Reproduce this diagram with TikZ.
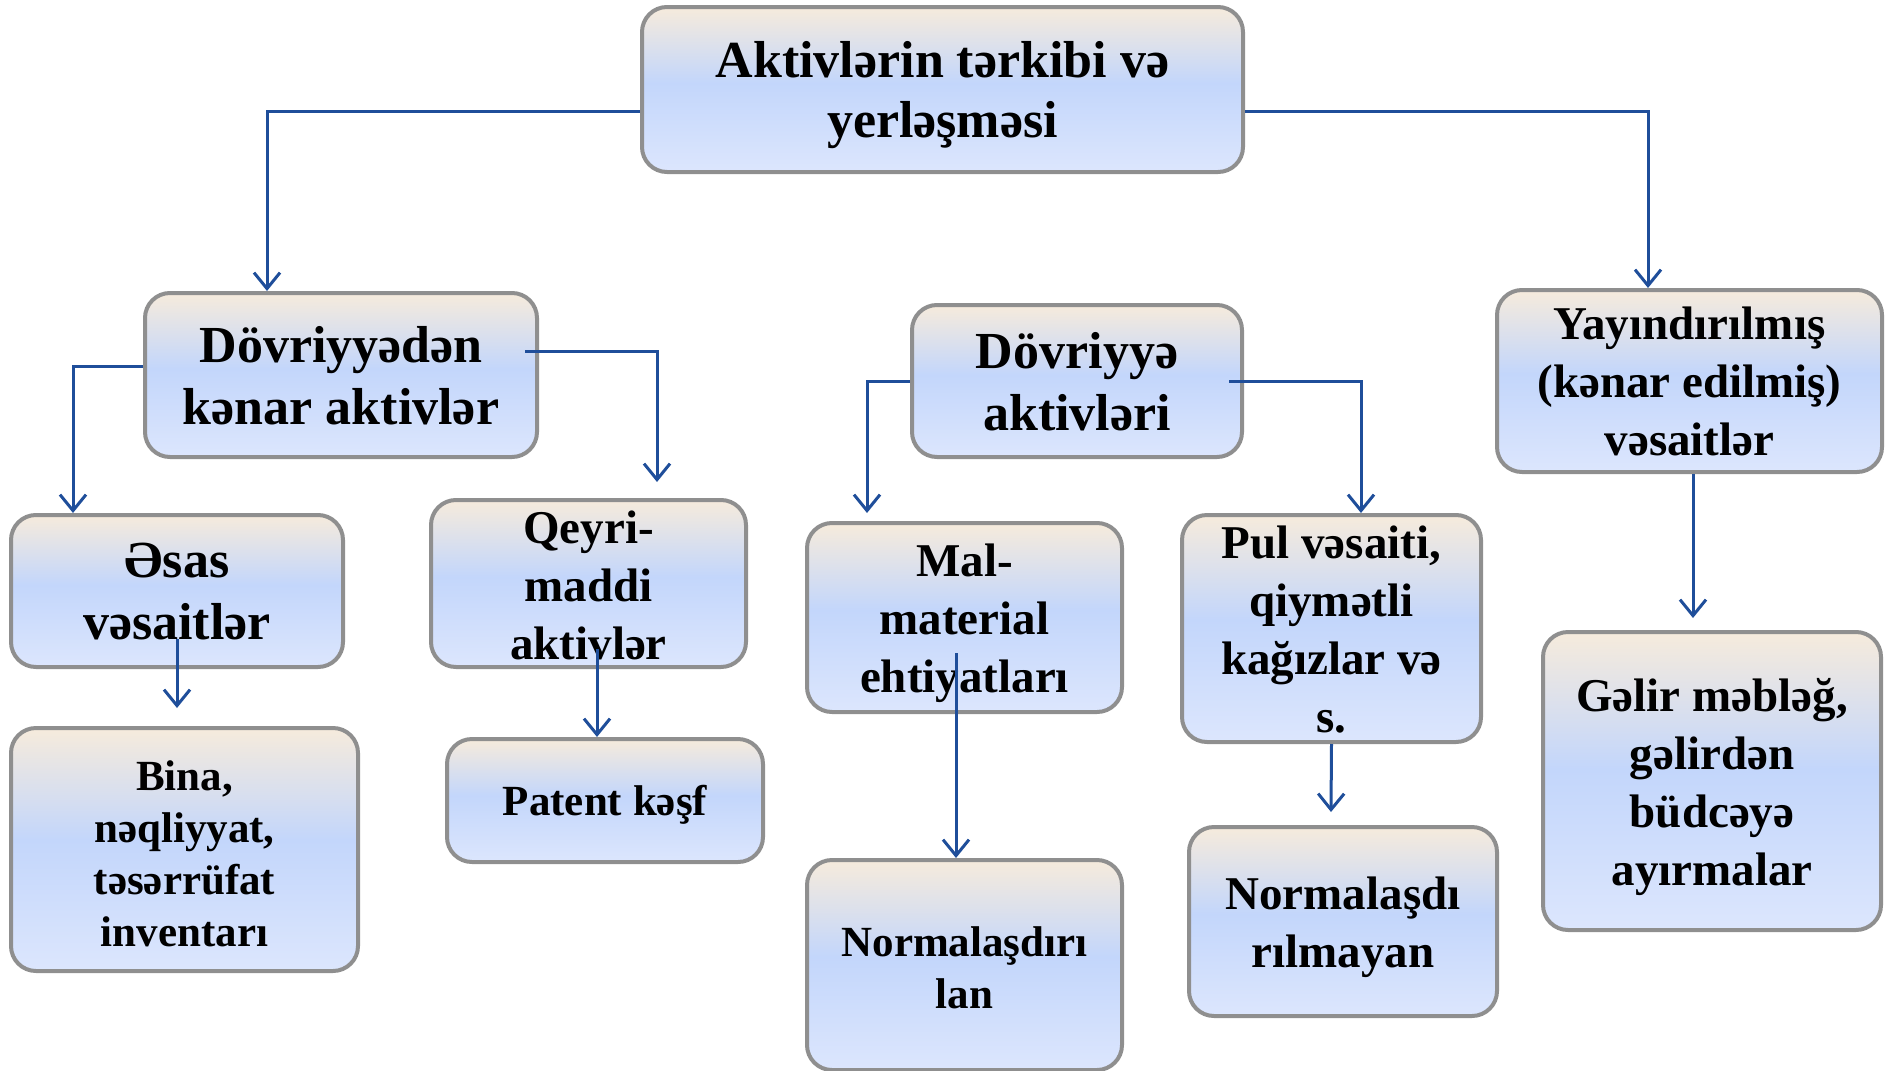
\documentclass[tikz,border=0pt]{standalone}
\usepackage{fontspec}
\setmainfont{Liberation Serif}
\usetikzlibrary{arrows.meta}
\definecolor{btop}{HTML}{F6EBDC}
\definecolor{bmid}{HTML}{C3D6FB}
\definecolor{bbot}{HTML}{DCE6FD}
\definecolor{bordc}{HTML}{8F8F8F}
\definecolor{linec}{HTML}{1F4E9A}
\pgfdeclareverticalshading{boxshade}{100bp}{color(0bp)=(bbot); color(25bp)=(bbot); color(52bp)=(bmid); color(75bp)=(btop); color(100bp)=(btop)}
\tikzset{
  box/.style={rounded corners=25pt, draw=bordc, line width=4pt, shading=boxshade,
    inner sep=0pt},
  txt/.style={align=center, inner sep=0pt},
  bigtxt/.style={txt, font=\fontsize{52pt}{62pt}\selectfont\bfseries},
  midtxt/.style={txt, font=\fontsize{47pt}{58pt}\selectfont\bfseries},
  smalltxt/.style={txt, font=\fontsize{43pt}{52pt}\selectfont\bfseries},
  conn/.style={draw=linec, line width=3pt,
    -{Straight Barb[length=16pt,width=26pt,line width=3pt]}},
}
\begin{document}
\begin{tikzpicture}[x=1pt,y=-1pt]
\useasboundingbox (0,0) rectangle (1885,1071);
% boxes
\node[box, minimum width=601pt, minimum height=165pt] (top) at (942.5,89.5) {};
\node[box, minimum width=392pt, minimum height=164pt] (dk) at (341,375) {};
\node[box, minimum width=332pt, minimum height=152pt] (esas) at (177,591) {};
\node[box, minimum width=315pt, minimum height=167pt] (qeyri) at (588.5,583.5) {};
\node[box, minimum width=347pt, minimum height=243pt] (bina) at (184.5,849.5) {};
\node[box, minimum width=316pt, minimum height=123pt] (patent) at (605,800.5) {};
\node[box, minimum width=330pt, minimum height=152pt] (da) at (1077,381) {};
\node[box, minimum width=315pt, minimum height=189pt] (mal) at (964.5,617.5) {};
\node[box, minimum width=315pt, minimum height=210pt] (norma) at (964.5,965) {};
\node[box, minimum width=299pt, minimum height=227pt] (pul) at (1331.5,628.5) {};
\node[box, minimum width=308pt, minimum height=189pt] (normb) at (1343,921.5) {};
\node[box, minimum width=385pt, minimum height=182pt] (yay) at (1689.5,381) {};
\node[box, minimum width=338pt, minimum height=298pt] (gelir) at (1712,781) {};
% texts
\node[txt, font=\fontsize{52pt}{60pt}\selectfont\bfseries, yshift=-6pt] (topt) at (top) {Aktivlərin tərkibi və\\yerləşməsi};
\node[bigtxt, yshift=-1pt] (dkt) at (dk) {Dövriyyədən\\kənar aktivlər};
\node[bigtxt, yshift=-1pt] (esast) at (esas) {Əsas\\vəsaitlər};
\node[midtxt, yshift=-2pt] (qeyrit) at (qeyri) {Qeyri-\\maddi\\aktivlər};
\node[smalltxt, yshift=-4pt] (binat) at (bina) {Bina,\\nəqliyyat,\\təsərrüfat\\inventarı};
\node[smalltxt, yshift=-4pt] (patentt) at (patent) {Patent kəşf};
\node[bigtxt, yshift=-1pt] (dat) at (da) {Dövriyyə\\aktivləri};
\node[midtxt, yshift=-6pt] (malt) at (mal) {Mal-\\material\\ehtiyatları};
\node[smalltxt, yshift=-3pt] (normat) at (norma) {Normalaşdırı\\lan};
\node[midtxt, yshift=-1pt] (pult) at (pul) {Pul vəsaiti,\\qiymətli\\kağızlar və\\s.};
\node[midtxt, yshift=-6pt] (normbt) at (normb) {Normalaşdı\\rılmayan};
\node[midtxt] (yayt) at (yay) {Yayındırılmış\\(kənar edilmiş)\\vəsaitlər};
\node[midtxt, yshift=-6pt] (gelirt) at (gelir) {Gəlir məbləğ,\\gəlirdən\\büdcəyə\\ayırmalar};
% connectors
\draw[conn] ([yshift=-21.5pt]top.west) -| ([xshift=-74pt]dk.north);
\draw[conn] ([yshift=-21.5pt]top.east) -| ([xshift=-41.5pt]yay.north);
\draw[conn] ([yshift=9pt]dk.west) -| ([xshift=-104pt]esas.north);
\draw[conn] ([xshift=-14pt,yshift=24pt]dk.east) -| ([xshift=68.5pt,yshift=16pt]qeyri.north);
\draw[conn] ([yshift=30pt]esas.south) -- ([xshift=-7.5pt,yshift=18pt]bina.north);
\draw[conn] ([xshift=8.5pt,yshift=20pt]qeyri.south) -- ([xshift=-8pt]patent.north);
\draw[conn] (da.west) -| ([xshift=-97.5pt,yshift=8pt]mal.north);
\draw[conn] ([xshift=-15pt]da.east) -| ([xshift=29.5pt]pul.north);
\draw[conn] ([xshift=-8.5pt,yshift=61pt]mal.south) -- ([xshift=-8.5pt]norma.north);
\draw[conn] (pul.south) -- ([xshift=-12pt,yshift=13pt]normb.north);
\draw[conn] ([xshift=3.5pt]yay.south) -- ([xshift=-19pt,yshift=12pt]gelir.north);
\end{tikzpicture}
\end{document}
